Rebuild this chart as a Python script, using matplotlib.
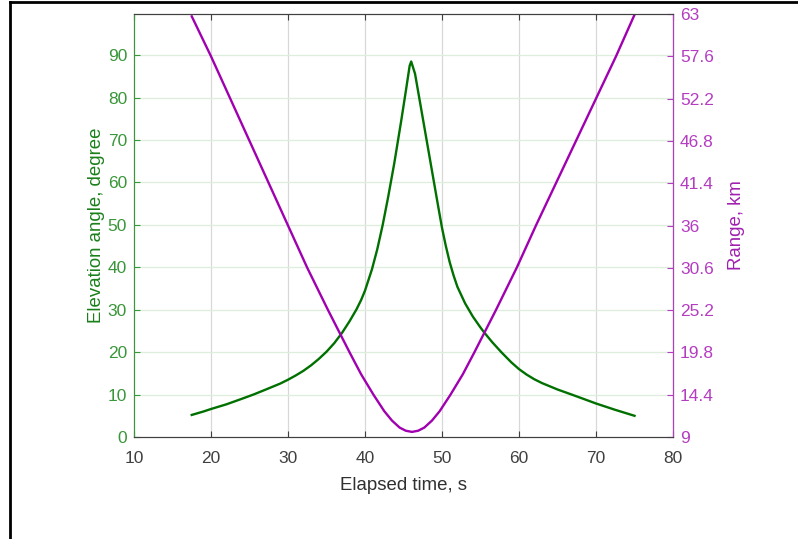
import numpy as np
import matplotlib
matplotlib.use('Agg')
import matplotlib.pyplot as plt
from matplotlib.lines import Line2D

plt.rcParams['font.family'] = ['Liberation Sans', 'DejaVu Sans']

# elevation angle, degree
t_elev = [17.5, 19, 20, 22, 24, 25.5, 27, 29, 30, 31, 32, 33, 34, 35, 36, 37, 38, 38.9,
          39.5, 40, 40.9, 41.6, 42.3, 43, 43.8, 44.7, 45.3, 45.8, 46.0, 46.5, 47.5, 48.5,
          49.5, 50, 50.5, 51, 51.5, 52, 53, 54, 55, 55.5, 56.5, 57.7, 59, 60, 61, 62, 63,
          65, 67, 70, 72.5, 75]
elev = [5.2, 6.0, 6.6, 7.7, 9.0, 10, 11.1, 12.6, 13.5, 14.5, 15.6, 16.9, 18.4, 20.1, 22.1,
        24.5, 27.3, 30.1, 32.3, 34.5, 39.5, 44.3, 50, 56.5, 64.5, 74.5, 81.5, 87.5, 88.5,
        85.6, 75.2, 64.8, 54.4, 49.3, 45, 41.2, 38.1, 35.4, 31.5, 28.4, 25.8, 24.6, 22.4,
        20.0, 17.6, 16.0, 14.7, 13.6, 12.7, 11.2, 9.9, 7.9, 6.4, 5.0]

# range, km
t_rng = [17.5, 20, 22.5, 25, 27.5, 30, 32.5, 35.2, 38, 39.5, 41.1, 42.5, 43.5, 44.5, 45.3,
         46.1, 46.9, 47.7, 48.7, 49.7, 51.1, 52.7, 54.2, 55.6, 57.0, 59.7, 62.2, 64.8,
         67.4, 70.0, 72.6, 75]
rng = [62.7, 57.6, 52.2, 46.8, 41.4, 36, 30.6, 25.2, 19.8, 17.0, 14.4, 12.3, 11.1, 10.2,
       9.8, 9.65, 9.8, 10.2, 11.1, 12.3, 14.4, 17.0, 19.8, 22.5, 25.2, 30.6, 36, 41.4,
       46.8, 52.2, 57.6, 62.9]

x_ticks = [10, 20, 30, 40, 50, 60, 70, 80]
elev_ticks = [0, 10, 20, 30, 40, 50, 60, 70, 80, 90]
rng_ticks = [9, 14.4, 19.8, 25.2, 30.6, 36, 41.4, 46.8, 52.2, 57.6, 63]

green_line = '#007000'
green_txt = '#3a963a'
purple_line = '#a000b0'
purple_txt = '#b43cc0'

fig = plt.figure(figsize=(7.98, 5.39), dpi=100)
ax = fig.add_axes([134 / 798, 1 - 437 / 539, (673 - 134) / 798, (437 - 14) / 539])
ax2 = ax.twinx()

ax.plot(t_elev, elev, color=green_line, lw=1.7)
ax2.plot(t_rng, rng, color=purple_line, lw=1.7)

ax.set_xlim(10, 80)
ax.set_ylim(0, 99.7)
ax2.set_ylim(9, 63)
ax.set_xticks(x_ticks)
ax.set_yticks(elev_ticks)
ax2.set_yticks(rng_ticks)
ax2.set_yticklabels(['%g' % v for v in rng_ticks])

# grid: gray verticals, light green horizontals
for xv in x_ticks[1:-1]:
    ax.axvline(xv, color='#d8d8d8', lw=0.9, zorder=0)
for yv in elev_ticks[1:]:
    ax.axhline(yv, color='#ddeedd', lw=0.9, zorder=0)

ax.tick_params(axis='x', direction='in', top=True, length=4, colors='#404040',
               labelsize=12.5, pad=10)
ax.tick_params(axis='y', direction='in', length=4, colors=green_txt, labelsize=12.5, pad=5)
ax2.tick_params(axis='y', direction='in', length=4, colors=purple_txt, labelsize=12.5, pad=5)

for side in ['top', 'bottom']:
    ax.spines[side].set_color('#404040')
    ax2.spines[side].set_color('#404040')
ax2.spines['left'].set_color(green_txt)
ax2.spines['right'].set_color(purple_txt)
ax.spines['left'].set_color(green_txt)

ax.set_xlabel('Elapsed time, s', fontsize=13.4, color='#303030', labelpad=8)
ax.set_ylabel('Elevation angle, degree', fontsize=13.4, color='#1a801a', labelpad=2)
ax2.set_ylabel('Range, km', fontsize=13.4, color='#a020b0', labelpad=10)

# outer frame lines
fig.add_artist(Line2D([10 / 798, 10 / 798], [0, 1 - 2 / 539], color='black', lw=2))
fig.add_artist(Line2D([10 / 798, 1], [1 - 2 / 539, 1 - 2 / 539], color='black', lw=2))

fig.savefig('out.png', dpi=100)
